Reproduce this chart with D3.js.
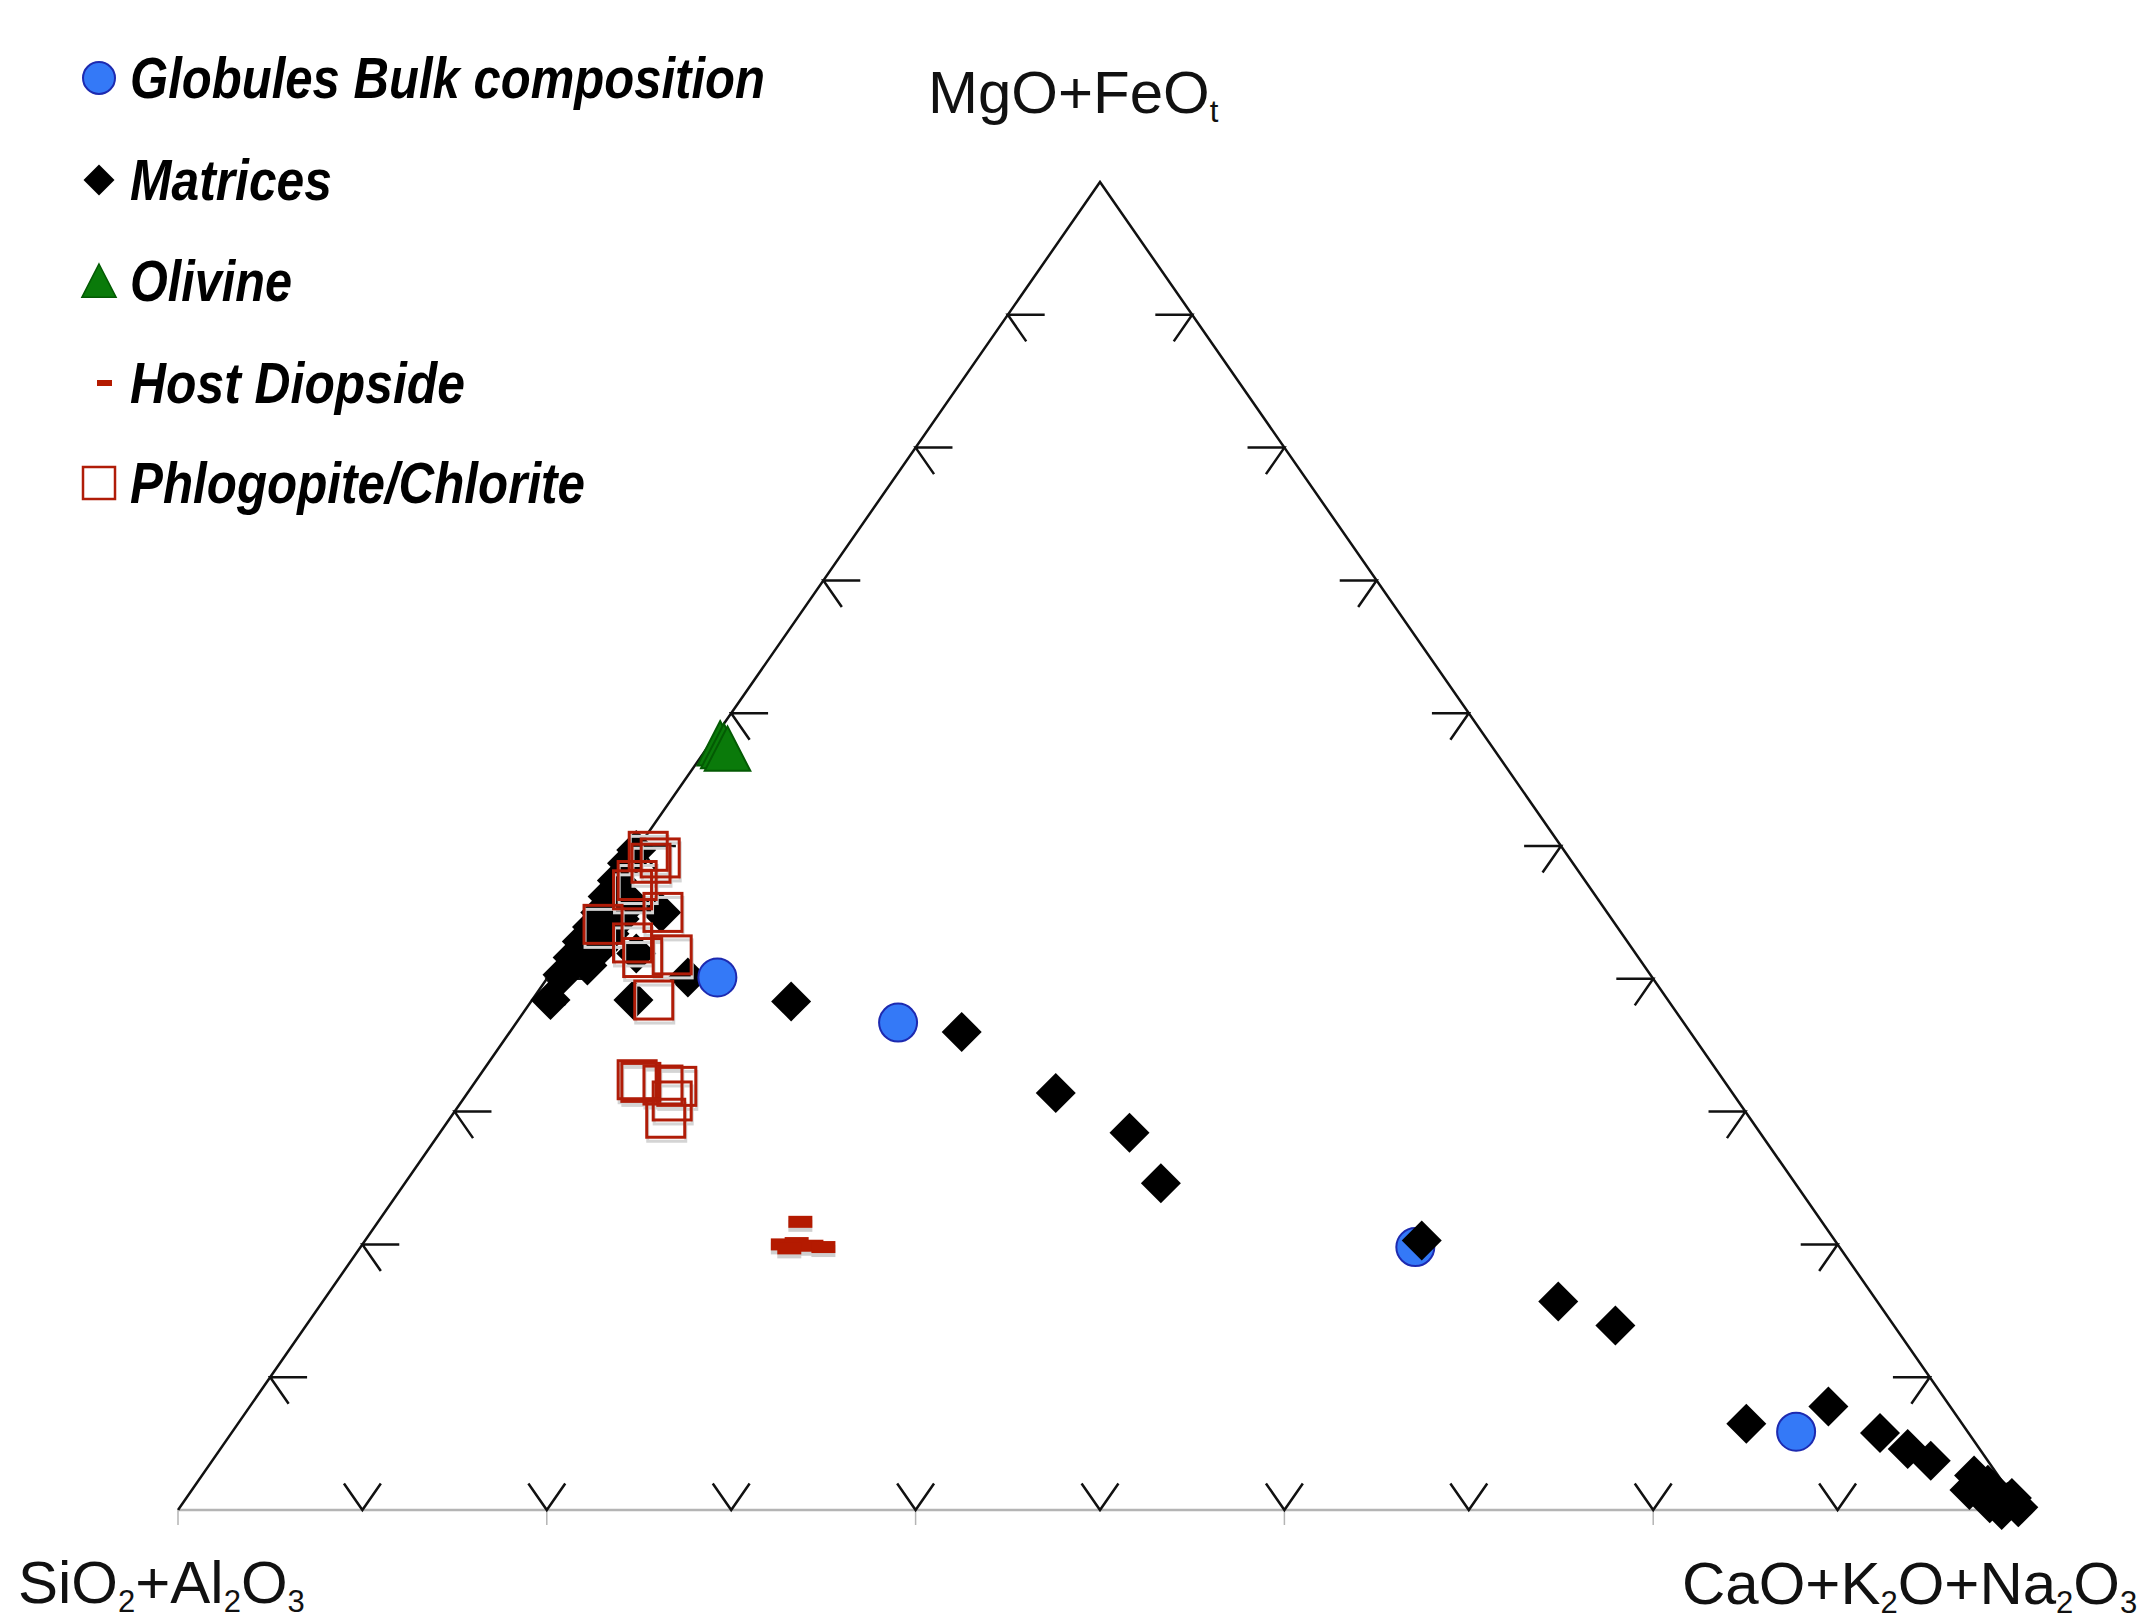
<!DOCTYPE html>
<html>
<head>
<meta charset="utf-8">
<script src="https://cdn.jsdelivr.net/npm/d3@7"></script>
<style>
  body { margin: 0; background: #fff; }
  svg { display: block; }
  .axis-label { font-family: "Liberation Sans", Arial, Helvetica, sans-serif; font-size: 60px; fill: #111; }
  .legend-text { font-family: "Liberation Sans Narrow", "Arial Narrow", "Liberation Sans", sans-serif; font-weight: bold; font-style: italic; font-size: 57px; fill: #000; }
</style>
</head>
<body>
<div class="chart"></div>
<script>
// compositions, wt% : [MgO+FeOt, SiO2+Al2O3, CaO+K2O+Na2O]
const globules = [
  [40.1, 50.7, 9.2], [36.7, 42.6, 20.7], [19.8, 23.0, 57.2], [5.9, 9.3, 84.8]
];

const matrices = [
  // along the SiO2+Al2O3 - MgO+FeOt side
  [38.4, 60.6, 1.0], [40.3, 59.0, 0.7], [41.6, 57.8, 0.6], [42.8, 56.7, 0.5],
  [43.9, 55.6, 0.5], [45.0, 54.6, 0.4], [46.2, 53.6, 0.2], [47.4, 52.5, 0.1],
  [48.7, 51.3, 0.0], [49.7, 50.3, 0.0],
  [41.0, 57.3, 1.7], [42.2, 56.1, 1.7], [43.4, 54.9, 1.7], [44.5, 53.8, 1.7], [45.7, 52.6, 1.7],
  [38.4, 56.1, 5.5], [40.1, 52.3, 7.6], [41.9, 54.2, 3.9], [45.0, 51.3, 3.7],
  // trend towards CaO+K2O+Na2O
  [38.3, 47.6, 14.1], [36.0, 39.5, 24.5], [31.4, 36.7, 31.9], [28.4, 34.2, 37.4],
  [24.6, 34.4, 41.0], [15.7, 17.3, 67.0], [13.9, 15.1, 71.0],
  [6.5, 11.7, 81.8], [7.8, 6.6, 85.6], [5.8, 4.8, 89.4], [4.6, 3.9, 91.5], [3.7, 3.1, 93.2],
  [2.6, 1.3, 96.1], [1.9, 0.9, 97.2], [1.5, 2.1, 96.4], [1.1, 0.8, 98.1],
  [0.6, 0.5, 98.9], [0.5, 1.5, 98.0], [0.2, 0.1, 99.7], [0.0, 1.1, 98.9], [0.9, 0.1, 99.0]
];

// matrix analysis plotted over the third globule
const matricesTop = [
  [20.3, 22.4, 57.3]
];

const olivine = [
  [57.6, 41.8, 0.6], [57.4, 41.7, 0.9], [57.2, 41.6, 1.2]
];

const hostDiopside = [
  [21.7, 55.4, 22.9], [20.0, 57.2, 22.8], [20.1, 56.4, 23.5],
  [19.9, 55.7, 24.4], [19.8, 55.1, 25.1], [19.7, 57.0, 23.3]
];

const phlogopiteChlorite = [
  [49.6, 49.7, 0.7], [49.1, 49.3, 1.6], [48.7, 50.0, 1.3], [47.4, 51.4, 1.2],
  [46.7, 52.0, 1.3], [45.0, 51.2, 3.8], [44.1, 54.9, 1.0], [42.7, 54.0, 3.3],
  [41.6, 54.0, 4.4], [41.8, 52.3, 5.9], [38.4, 55.0, 6.6],
  [32.4, 58.9, 8.7], [32.2, 58.8, 9.0], [32.0, 57.7, 10.3], [31.9, 57.0, 11.1],
  [30.8, 57.8, 11.4], [29.5, 58.8, 11.7]
];

const legendLabels = ["Globules Bulk composition", "Matrices", "Olivine", "Host Diopside", "Phlogopite/Chlorite"];
const tickValues = [10, 20, 30, 40, 50, 60, 70, 80, 90];
const baseMarks = [0, 20, 40, 60, 80];

const svgData = {
  width: 2153,
  height: 1620,
  left: 178,
  right: 2022,
  top: 182,
  bottom: 1510,
  tickLen: 2,
};

const xScale = d3.scaleLinear().domain([0, 100]).range([svgData.left, svgData.right]);
const yScale = d3.scaleLinear().domain([0, 100]).range([svgData.bottom, svgData.top]);

// ternary -> screen
function project(d) {
  const mg = d[0], ca = d[2];
  return [xScale(ca + mg / 2), yScale(mg)];
}
const pt = (mg, ca) => project([mg, 100 - mg - ca, ca]);

const svg = d3
  .select(".chart")
  .append("svg")
  .attr("width", svgData.width)
  .attr("height", svgData.height);

drawFrame(svg);
drawTicks(svg);
drawAxisLabels(svg);

svg.append("g").selectAll("path")
  .data(matrices).join("path")
  .attr("d", d3.symbol(d3.symbolSquare, 800))
  .attr("transform", d => `translate(${project(d)}) rotate(45)`)
  .attr("fill", "#000");

svg.append("g").selectAll("circle")
  .data(globules).join("circle")
  .attr("cx", d => project(d)[0])
  .attr("cy", d => project(d)[1])
  .attr("r", 19)
  .attr("fill", "#3479f7")
  .attr("stroke", "#1d2ab0")
  .attr("stroke-width", 2);

svg.append("g").selectAll("path")
  .data(matricesTop).join("path")
  .attr("d", d3.symbol(d3.symbolSquare, 800))
  .attr("transform", d => `translate(${project(d)}) rotate(45)`)
  .attr("fill", "#000");

svg.append("g").selectAll("path")
  .data(olivine).join("path")
  .attr("d", triPath(24))
  .attr("transform", d => `translate(${project(d)})`)
  .attr("fill", "#0a7a0a")
  .attr("stroke", "#035a03")
  .attr("stroke-width", 2);

// host diopside dashes with a light shadow
const dashG = svg.append("g");
dashG.selectAll("rect.shadow")
  .data(hostDiopside).join("rect")
  .attr("class", "shadow")
  .attr("x", d => project(d)[0] - 12)
  .attr("y", d => project(d)[1] - 2)
  .attr("width", 24).attr("height", 12)
  .attr("fill", "#cfcfcf");
dashG.selectAll("rect.dash")
  .data(hostDiopside).join("rect")
  .attr("class", "dash")
  .attr("x", d => project(d)[0] - 12)
  .attr("y", d => project(d)[1] - 6)
  .attr("width", 24).attr("height", 12)
  .attr("fill", "#b41a00");

const sqG = svg.append("g").attr("fill", "none");
sqG.selectAll("rect.shadow")
  .data(phlogopiteChlorite).join("rect")
  .attr("class", "shadow")
  .attr("x", d => project(d)[0] - 18)
  .attr("y", d => project(d)[1] - 15)
  .attr("width", 38).attr("height", 38)
  .attr("stroke", "#d4d4d4")
  .attr("stroke-width", 3);
sqG.selectAll("rect.sq")
  .data(phlogopiteChlorite).join("rect")
  .attr("class", "sq")
  .attr("x", d => project(d)[0] - 19)
  .attr("y", d => project(d)[1] - 19)
  .attr("width", 38).attr("height", 38)
  .attr("stroke", "#b01c08")
  .attr("stroke-width", 3);

drawLegend(svg);

function triPath(r) {
  const p = d3.path();
  p.moveTo(0, -r);
  p.lineTo(r * 0.95, r * 0.85);
  p.lineTo(-r * 0.95, r * 0.85);
  p.closePath();
  return p.toString();
}

function drawFrame(svg) {
  const line = d3.line();
  svg.append("path")
    .attr("d", line([pt(0, 0), pt(0, 100)]))
    .attr("stroke", "#b4b4b4")
    .attr("stroke-width", 2.5)
    .attr("fill", "none");
  svg.append("path")
    .attr("d", line([pt(0, 0), pt(100, 0), pt(0, 100)]))
    .attr("stroke", "#111")
    .attr("stroke-width", 2.5)
    .attr("fill", "none");
  svg.append("g").selectAll("line")
    .data(baseMarks).join("line")
    .attr("x1", d => xScale(d)).attr("x2", d => xScale(d))
    .attr("y1", svgData.bottom).attr("y2", svgData.bottom + 15)
    .attr("stroke", "#b4b4b4")
    .attr("stroke-width", 1.5);
}

function drawTicks(svg) {
  const k = svgData.tickLen;
  const line = d3.line();
  const segs = [];
  tickValues.forEach(t => {
    // bottom side
    segs.push([pt(k, t - k), pt(0, t), pt(k, t)]);
    // left side
    segs.push([pt(t, k), pt(t, 0), pt(t - k, k)]);
    // right side
    segs.push([pt(t, 100 - t - k), pt(t, 100 - t), pt(t - k, 100 - t)]);
  });
  svg.append("g").selectAll("path")
    .data(segs).join("path")
    .attr("d", d => line(d))
    .attr("fill", "none")
    .attr("stroke", "#111")
    .attr("stroke-width", 2.5);
}

// parts: plain strings, or {sub: "2"} for a subscript
function label(svg, x, y, parts) {
  const t = svg.append("text")
    .attr("class", "axis-label")
    .attr("x", x).attr("y", y);
  const subDy = 9;
  let low = false;
  parts.forEach(p => {
    if (typeof p === "object") {
      t.append("tspan").attr("dy", low ? 0 : subDy).attr("font-size", 31).text(p.sub);
      low = true;
    } else {
      t.append("tspan").attr("dy", low ? -subDy : 0).text(p);
      low = false;
    }
  });
  return t;
}

function drawAxisLabels(svg) {
  label(svg, 928, 113, ["MgO+FeO", { sub: "t" }]);
  label(svg, 18, 1603, ["SiO", { sub: "2" }, "+Al", { sub: "2" }, "O", { sub: "3" }]);
  label(svg, 1682, 1604, ["CaO+K", { sub: "2" }, "O+Na", { sub: "2" }, "O", { sub: "3" }]);
}

function drawLegend(svg) {
  const rows = [78, 180, 281, 383, 483];
  const widths = [635, 202, 162, 335, 455];
  const mx = 99;
  const g = svg.append("g");

  g.append("circle").attr("cx", mx).attr("cy", rows[0]).attr("r", 16)
    .attr("fill", "#3479f7").attr("stroke", "#1d2ab0").attr("stroke-width", 2);
  g.append("path").attr("d", d3.symbol(d3.symbolSquare, 480))
    .attr("transform", `translate(${mx},${rows[1]}) rotate(45)`).attr("fill", "#000");
  g.append("path").attr("d", triPath(18))
    .attr("transform", `translate(${mx},${rows[2] + 1})`)
    .attr("fill", "#0a7a0a").attr("stroke", "#035a03").attr("stroke-width", 1.5);
  g.append("rect").attr("x", mx - 2).attr("y", rows[3] - 3).attr("width", 15).attr("height", 6)
    .attr("fill", "#b41a00");
  g.append("rect").attr("x", mx - 16).attr("y", rows[4] - 16).attr("width", 32).attr("height", 32)
    .attr("fill", "none").attr("stroke", "#b01c08").attr("stroke-width", 2.5);

  g.selectAll("text")
    .data(legendLabels).join("text")
    .attr("class", "legend-text")
    .attr("x", 130)
    .attr("y", (d, i) => rows[i] + 20)
    .attr("textLength", (d, i) => widths[i])
    .attr("lengthAdjust", "spacingAndGlyphs")
    .text(d => d);
}
</script>
</body>
</html>
